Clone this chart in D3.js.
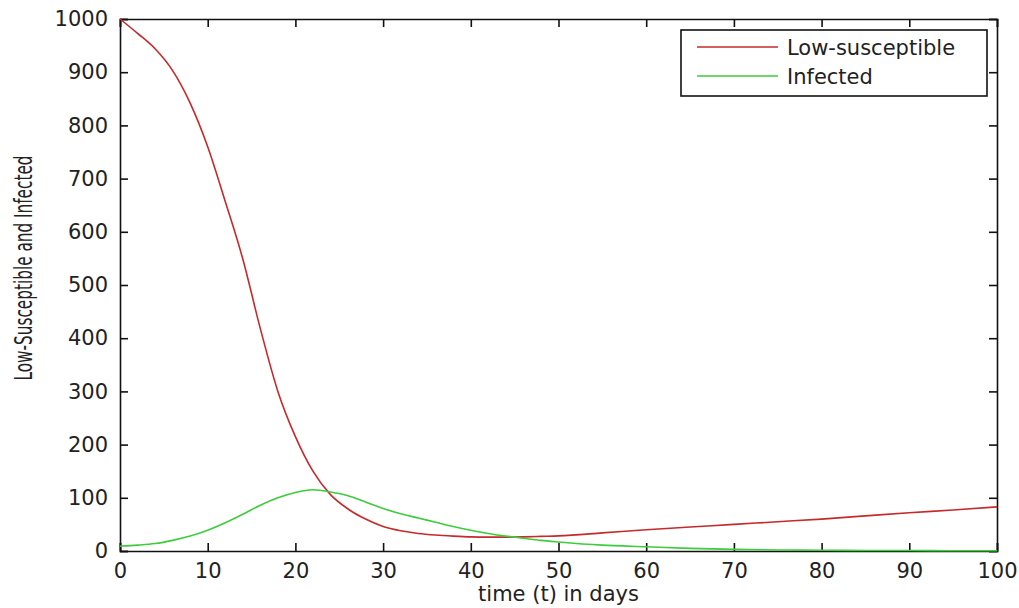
<!DOCTYPE html>
<html>
<head>
<meta charset="utf-8">
<script src="https://cdn.jsdelivr.net/npm/d3@7"></script>
<style>
  body { margin: 0; background: #fff; }
  svg { display: block; }
  .tick text { font-family: "DejaVu Sans", sans-serif; font-size: 21px; fill: #222; }
</style>
</head>
<body>
<svg id="chart"></svg>
<script>
var days = [0, 2, 4, 6, 8, 10, 12, 14, 16, 18, 20, 22, 24, 26, 28, 30, 32, 34, 36, 38,
  40, 42, 44, 46, 48, 50, 55, 60, 65, 70, 75, 80, 85, 90, 95, 100]
var lowSusceptible = [1000, 973, 944, 903, 842, 760, 657, 549, 418, 300, 215, 150, 106, 79, 60, 46, 38, 33, 30, 28,
  26.5, 26, 26, 26.5, 27.5, 28.5, 34, 40, 45, 50, 55, 60, 66, 72, 77, 83]
var infected = [9, 11, 14, 20, 28, 39, 53, 69, 86, 100, 110, 115, 111, 104, 92, 80, 70, 62, 54, 46,
  39, 33, 28, 24, 20, 17, 11, 8, 5, 3, 2, 1.5, 1, 0.8, 0.6, 0.5]
var seriesNames = ['Low-susceptible', 'Infected']
var seriesColors = ['#c62a2a', '#3ccc3c']
var xTicks = [0, 10, 20, 30, 40, 50, 60, 70, 80, 90, 100]
var yTicks = [0, 100, 200, 300, 400, 500, 600, 700, 800, 900, 1000]

var W = 1019, H = 608
var margin = {top: 19, right: 22, bottom: 57, left: 120}
var width = W - margin.left - margin.right
var height = H - margin.top - margin.bottom

var svg = d3.select('#chart')
  .attr('width', W)
  .attr('height', H)
  .append('g')
  .attr('transform', 'translate(' + margin.left + ',' + margin.top + ')')

var x = d3.scaleLinear().domain([0, 100]).range([0, width])
var y = d3.scaleLinear().domain([0, 1000]).range([height, 0])

// matlab style: ticks inward on all four sides
svg.append('g')
  .attr('transform', 'translate(0,' + height + ')')
  .call(d3.axisBottom(x).tickValues(xTicks).tickSize(-8).tickPadding(12).tickFormat(d3.format('d')))
svg.append('g')
  .call(d3.axisTop(x).tickValues(xTicks).tickSize(-8).tickFormat(''))
svg.append('g')
  .call(d3.axisLeft(y).tickValues(yTicks).tickSize(-8).tickPadding(12).tickFormat(d3.format('d')))
svg.append('g')
  .attr('transform', 'translate(' + width + ',0)')
  .call(d3.axisRight(y).tickValues(yTicks).tickSize(-8).tickFormat(''))

svg.selectAll('.domain').attr('stroke', '#111').attr('stroke-width', 1.6)
svg.selectAll('.tick line').attr('stroke', '#111').attr('stroke-width', 1.6)

var series = [lowSusceptible, infected]
var line = d3.line()
  .x(function(d, i) { return x(days[i]) })
  .y(function(d) { return y(d) })
  .curve(d3.curveMonotoneX)

series.forEach(function(s, k) {
  svg.append('path')
    .datum(s)
    .attr('fill', 'none')
    .attr('stroke', seriesColors[k])
    .attr('stroke-width', 1.6)
    .attr('d', line)
})

// legend
var lg = svg.append('g').attr('transform', 'translate(' + (681 - margin.left) + ',' + (30 - margin.top) + ')')
lg.append('rect')
  .attr('width', 306)
  .attr('height', 66)
  .attr('fill', '#fff')
  .attr('stroke', '#111')
  .attr('stroke-width', 1.6)
seriesNames.forEach(function(name, k) {
  var ly = 17 + k * 29
  lg.append('line')
    .attr('x1', 16).attr('x2', 97)
    .attr('y1', ly).attr('y2', ly)
    .attr('stroke', seriesColors[k])
    .attr('stroke-width', 1.6)
  lg.append('text')
    .attr('x', 106)
    .attr('y', ly)
    .attr('dy', '0.36em')
    .attr('font-family', 'DejaVu Sans, sans-serif')
    .attr('font-size', '21px')
    .attr('fill', '#222')
    .text(name)
})

svg.append('text')
  .attr('text-anchor', 'middle')
  .attr('x', width / 2)
  .attr('y', height + 50)
  .attr('font-family', 'DejaVu Sans, sans-serif')
  .attr('font-size', '21px')
  .attr('fill', '#222')
  .text('time (t) in days')

svg.append('text')
  .attr('text-anchor', 'middle')
  .attr('transform', 'translate(' + (32 - margin.left) + ',' + (268 - margin.top) + ') rotate(-90)')
  .attr('font-family', '"Liberation Sans Narrow", "DejaVu Sans Condensed", sans-serif')
  .attr('font-size', '24px')
  .attr('textLength', 225)
  .attr('lengthAdjust', 'spacingAndGlyphs')
  .attr('fill', '#222')
  .text('Low-Susceptible and Infected')
</script>
</body>
</html>
